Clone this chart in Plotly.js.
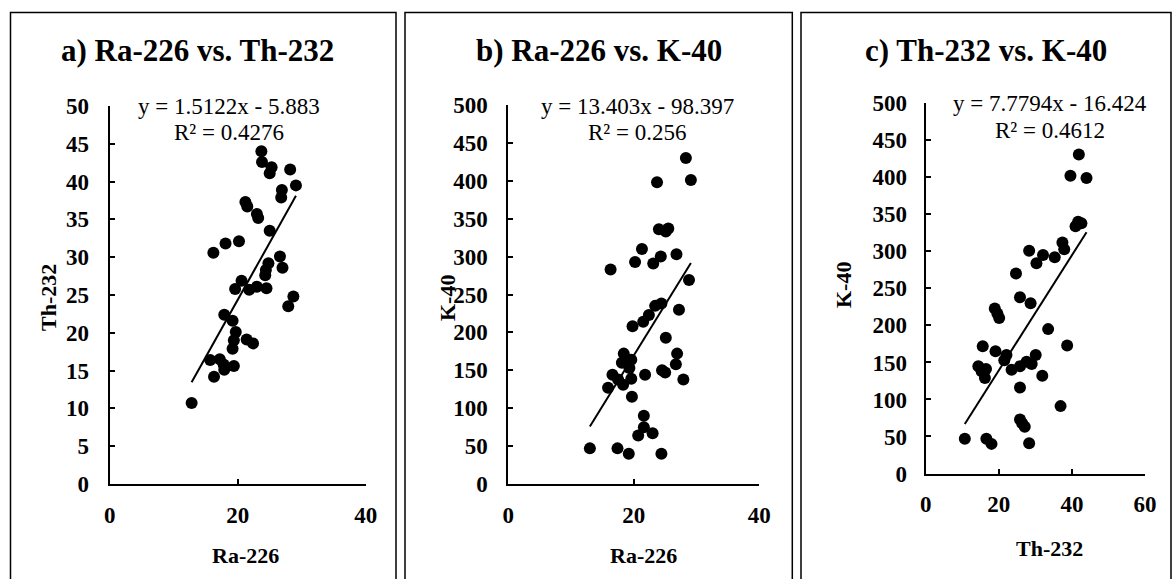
<!DOCTYPE html>
<html>
<head>
<meta charset="utf-8">
<script src="https://cdn.plot.ly/plotly-3.0.1.min.js"></script>
<style>html,body{margin:0;padding:0;background:#fff;}#chart{width:1175px;height:579px;}</style>
</head>
<body>
<div id="chart"></div>
<script>
// ---- Panel a: Ra-226 vs Th-232 ----
const raA = [23.7,23.8,25.3,25.0,28.2,29.1,26.9,26.8,21.2,21.5,23.0,23.2,25.0,16.2,18.1,20.2,26.6,27.0,24.8,24.4,24.3,20.6,19.6,21.8,23.0,24.5,28.7,27.9,17.9,19.2,19.7,19.4,21.4,22.4,19.2,15.7,17.2,17.9,19.4,17.8,16.3,12.8];
const thA = [44.0,42.6,41.9,41.1,41.6,39.5,38.9,37.9,37.3,36.7,35.7,35.2,33.5,30.6,31.8,32.1,30.1,28.6,29.2,28.3,27.6,26.9,25.8,25.7,26.1,25.9,24.8,23.5,22.4,21.6,20.1,19.0,19.1,18.6,17.9,16.4,16.5,15.1,15.6,15.8,14.2,10.7];
// ---- Panel b: Ra-226 vs K-40 ----
const raB = [28.3,29.1,23.7,24.0,25.5,25.1,21.3,20.2,23.1,24.3,26.8,16.3,28.8,24.4,23.4,27.2,22.4,21.5,19.8,25.1,18.4,26.9,19.6,18.9,18.1,26.7,19.3,16.6,21.8,24.5,25.0,19.6,17.5,18.3,15.9,27.9,19.7,21.6,21.6,23.0,20.7,13.0,17.4,19.2,24.4];
const kB  = [430,401,398,336,337,333,310,293,291,300,303,283,269,238,235,230,223,214,208,193,172,172,164,164,160,158,153,144,144,150,147,139,138,131,127,138,115,90,75,67,64,47,47,40,40];
// ---- Panel c: Th-232 vs K-40 ----
const thC = [41.9,39.6,44.0,41.7,42.6,41.0,37.4,37.9,28.3,32.1,35.3,30.3,24.7,25.8,28.7,18.9,19.6,20.1,33.5,15.6,38.7,19.1,22.1,21.5,30.1,14.4,16.5,15.3,16.2,23.5,25.8,27.6,29.0,31.9,25.8,36.9,25.8,26.4,27.1,10.7,16.6,18.0,28.3];
const kC  = [431,402,399,340,338,334,312,303,301,295,292,284,270,238,230,223,216,210,195,172,173,165,160,153,160,145,141,138,129,140,145,151,148,132,116,91,73,68,63,47,47,40,41];

// Trend line coefficients (from chart equations)
const slopes = [1.5122, 13.403, 7.7794];
const intercepts = [-5.883, -98.397, -16.424];
const eqTexts = ['y = 1.5122x - 5.883', 'y = 13.403x - 98.397', 'y = 7.7794x - 16.424'];
const r2Texts = ['R² = 0.4276', 'R² = 0.256', 'R² = 0.4612'];
const titles = ['a) Ra-226 vs. Th-232', 'b) Ra-226 vs. K-40', 'c) Th-232 vs. K-40'];
const xTitles = ['Ra-226', 'Ra-226', 'Th-232'];
const yTitles = ['Th-232', 'K-40', 'K-40'];

const W = 1175, H = 579;
const px = x => x / W;
const py = y => 1 - y / H;
const SERIF = 'Liberation Serif, Times New Roman, serif';

const datasets = [[raA, thA], [raB, kB], [thC, kC]];
const traces = [];
datasets.forEach((d, i) => {
  const sfx = i === 0 ? '' : String(i + 1);
  traces.push({
    x: d[0], y: d[1], type: 'scatter', mode: 'markers',
    marker: {color: 'black', size: 12},
    xaxis: 'x' + sfx, yaxis: 'y' + sfx, hoverinfo: 'skip'
  });
  const xmin = Math.min(...d[0]), xmax = Math.max(...d[0]);
  traces.push({
    x: [xmin, xmax], y: [slopes[i]*xmin + intercepts[i], slopes[i]*xmax + intercepts[i]],
    type: 'scatter', mode: 'lines', line: {color: 'black', width: 2},
    xaxis: 'x' + sfx, yaxis: 'y' + sfx, hoverinfo: 'skip'
  });
});

const tickFont = {family: SERIF, size: 23, color: 'black', weight: 'bold'};
function axis(domain, range, dtick, standoff) {
  return {
    domain: domain, range: range, dtick: dtick, tick0: 0,
    showline: true, linecolor: 'black', linewidth: 2,
    ticks: 'inside', ticklen: 5, tickwidth: 2, tickcolor: 'black',
    showgrid: false, zeroline: false, fixedrange: true,
    tickfont: tickFont, ticklabelstandoff: standoff
  };
}

const layout = {
  width: W, height: H,
  margin: {l: 0, r: 0, t: 0, b: 0},
  paper_bgcolor: 'white', plot_bgcolor: 'white',
  showlegend: false,
  xaxis:  Object.assign(axis([px(109.7), px(365.7)], [0, 40], 20, 9), {anchor: 'y'}),
  yaxis:  Object.assign(axis([py(484), py(106)], [0, 50], 5, 14), {anchor: 'x'}),
  xaxis2: Object.assign(axis([px(508.3), px(759.3)], [0, 40], 20, 9), {anchor: 'y2'}),
  yaxis2: Object.assign(axis([py(484), py(105)], [0, 500], 50, 14), {anchor: 'x2'}),
  xaxis3: Object.assign(axis([px(925.7), px(1145)], [0, 60], 20, 9), {anchor: 'y3'}),
  yaxis3: Object.assign(axis([py(473.5), py(103.3)], [0, 500], 50, 12), {anchor: 'x3'}),
  shapes: [],
  annotations: []
};

// panel boxes
const boxes = [[10.5, 396], [405, 792.3], [801, 1171]];
boxes.forEach(b => layout.shapes.push({
  type: 'rect', xref: 'paper', yref: 'paper',
  x0: px(b[0]), x1: px(b[1]), y0: py(600), y1: py(12.5),
  line: {color: 'black', width: 1.5}, fillcolor: 'rgba(0,0,0,0)'
}));

const titleX = [198, 599, 986];
const eqX = [228.5, 637, 1050];
const eqY = [[106.5, 132], [106.5, 132], [103.5, 130]];
const xtX = [245, 643, 1049];
const xtY = [555, 555, 548];
const ytX = [48, 447, 843];
const ytY = [298, 298, 285];
function ann(text, x, y, font, extra) {
  layout.annotations.push(Object.assign({
    text: text, x: px(x), y: py(y), xref: 'paper', yref: 'paper',
    xanchor: 'center', yanchor: 'middle', showarrow: false, font: font
  }, extra || {}));
}
for (let i = 0; i < 3; i++) {
  ann(titles[i], titleX[i], 51, {family: SERIF, size: 31, color: 'black', weight: 'bold'});
  ann(eqTexts[i], eqX[i], eqY[i][0], {family: SERIF, size: 23, color: 'black'});
  ann(r2Texts[i], eqX[i], eqY[i][1], {family: SERIF, size: 23, color: 'black'});
  ann(xTitles[i], xtX[i], xtY[i], {family: SERIF, size: 22, color: 'black', weight: 'bold'});
  ann(yTitles[i], ytX[i], ytY[i], {family: SERIF, size: 22, color: 'black', weight: 'bold'}, {textangle: -90});
}

Plotly.newPlot('chart', traces, layout, {displayModeBar: false, staticPlot: true});
</script>
</body>
</html>
